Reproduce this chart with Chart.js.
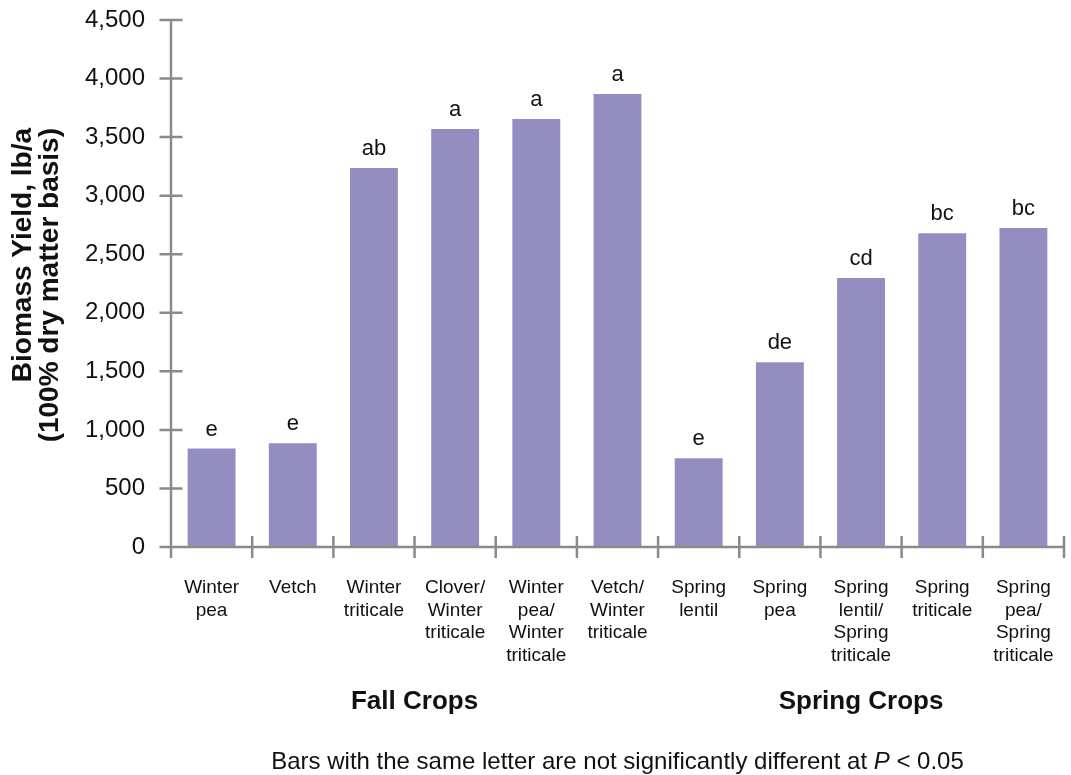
<!DOCTYPE html>
<html>
<head>
<meta charset="utf-8">
<script src="https://cdn.jsdelivr.net/npm/chart.js@4.4.1/dist/chart.umd.min.js"></script>
<style>
  body { margin: 0; background: #fff; }
</style>
</head>
<body>
<canvas id="barChart" width="1071" height="775"></canvas>
<script>
const crops = [
  ["Winter", "pea"], ["Vetch"], ["Winter", "triticale"], ["Clover/", "Winter", "triticale"],
  ["Winter", "pea/", "Winter", "triticale"], ["Vetch/", "Winter", "triticale"], ["Spring", "lentil"],
  ["Spring", "pea"], ["Spring", "lentil/", "Spring", "triticale"], ["Spring", "triticale"],
  ["Spring", "pea/", "Spring", "triticale"]
];
const yields = [841, 886, 3236, 3569, 3654, 3868, 758, 1578, 2296, 2680, 2723];
const letters = ["e", "e", "ab", "a", "a", "a", "e", "de", "cd", "bc", "bc"];
const groupNames = ["Fall Crops", "Spring Crops"];
const groupFirst = [0, 6];
const groupLast = [5, 10];
const yMax = 4500;
const yStep = 500;

const font = "'Liberation Sans', Arial, Helvetica, sans-serif";
const axisColor = "#8a8a8a";
const textColor = "#111";

// axis lines, crossing tick marks, letters and captions
const decor = {
  id: "decor",
  afterDatasetsDraw(chart) {
    const { ctx, chartArea: a, scales: { x, y } } = chart;
    ctx.save();
    ctx.strokeStyle = axisColor;
    ctx.lineWidth = 2.5;
    ctx.beginPath();
    ctx.moveTo(a.left, a.top);
    ctx.lineTo(a.left, a.bottom);
    ctx.lineTo(a.right, a.bottom);
    y.ticks.forEach(t => {
      const py = y.getPixelForValue(t.value);
      ctx.moveTo(a.left - 11.5, py);
      ctx.lineTo(a.left + 11.5, py);
    });
    for (let i = 0; i <= crops.length; i++) {
      const px = x.getPixelForValue(i - 0.5);
      ctx.moveTo(px, a.bottom - 11);
      ctx.lineTo(px, a.bottom + 11);
    }
    ctx.stroke();

    ctx.fillStyle = textColor;
    ctx.textAlign = "center";
    ctx.textBaseline = "alphabetic";
    ctx.font = "22px " + font;
    chart.getDatasetMeta(0).data.forEach((bar, i) => {
      ctx.fillText(letters[i], bar.x, bar.y - 13);
    });

    ctx.font = "bold 26px " + font;
    ctx.textBaseline = "middle";
    groupNames.forEach((g, i) => {
      const cx = (x.getPixelForValue(groupFirst[i]) + x.getPixelForValue(groupLast[i])) / 2;
      ctx.fillText(g, cx, 702);
    });

    // footnote with italic P
    const parts = [["Bars with the same letter are not significantly different at ", ""], ["P", "italic "], [" < 0.05", ""]];
    let total = 0;
    parts.forEach(p => { ctx.font = p[1] + "24px " + font; total += ctx.measureText(p[0]).width; });
    let fx = (a.left + a.right) / 2 - total / 2;
    ctx.textAlign = "left";
    parts.forEach(p => {
      ctx.font = p[1] + "24px " + font;
      ctx.fillText(p[0], fx, 762);
      fx += ctx.measureText(p[0]).width;
    });

    // y title, two lines aligned at their ends
    ctx.font = "bold 28px " + font;
    ctx.translate(0, 128);
    ctx.rotate(-Math.PI / 2);
    ctx.textAlign = "right";
    ctx.fillText("Biomass Yield, lb/a", 0, 23);
    ctx.fillText("(100% dry matter basis)", 0, 50);
    ctx.restore();
  }
};

new Chart(document.getElementById("barChart"), {
  type: "bar",
  data: {
    labels: crops,
    datasets: [{
      data: yields,
      backgroundColor: "#948ec0",
      categoryPercentage: 1,
      barPercentage: 0.59
    }]
  },
  options: {
    responsive: false,
    animation: false,
    layout: { padding: { top: 20, right: 7, left: 0, bottom: 0 } },
    plugins: { legend: { display: false }, tooltip: { enabled: false } },
    scales: {
      x: {
        grid: { display: false, drawTicks: false },
        border: { display: false },
        afterFit(s) { s.height = 228; s.paddingLeft = 0; s.paddingRight = 0; },
        ticks: {
          color: textColor,
          padding: 30,
          maxRotation: 0,
          autoSkip: false,
          font: { family: font, size: 19, lineHeight: 1.18 }
        }
      },
      y: {
        min: 0,
        max: yMax,
        grid: { display: false, drawTicks: false },
        border: { display: false },
        afterFit(s) { s.width = 171; s.paddingTop = 0; s.paddingBottom = 0; },
        ticks: {
          stepSize: yStep,
          color: textColor,
          padding: 26,
          font: { family: font, size: 24 },
          callback: v => v.toLocaleString("en-US")
        }
      }
    }
  },
  plugins: [decor]
});
</script>
</body>
</html>
